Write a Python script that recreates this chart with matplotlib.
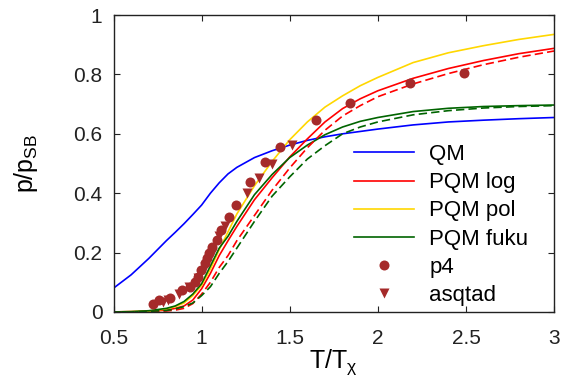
import matplotlib
matplotlib.use("Agg")
import matplotlib.pyplot as plt

plt.rcParams["font.family"] = ["Liberation Sans", "DejaVu Sans"]
plt.rcParams["mathtext.fontset"] = "custom"
plt.rcParams["mathtext.rm"] = "Liberation Sans"
plt.rcParams["mathtext.it"] = "Liberation Sans:italic"

# Temperature grid (T/T_chi) of the model curves
t_grid = [0.5, 0.6, 0.7, 0.8, 0.85, 0.9, 0.95, 1.0, 1.05, 1.1, 1.15, 1.2, 1.3,
          1.4, 1.5, 1.6, 1.7, 1.8, 1.9, 2.0, 2.2, 2.4, 2.6, 2.8, 3.0]

# Pressure over Stefan-Boltzmann limit
qm = [0.08, 0.125, 0.18, 0.24, 0.268, 0.297, 0.328, 0.36, 0.40, 0.435, 0.465,
      0.487, 0.52, 0.543, 0.562, 0.578, 0.59, 0.60, 0.608, 0.616, 0.63, 0.64,
      0.646, 0.651, 0.655]
pqm_log = [0.0, 0.001, 0.002, 0.006, 0.012, 0.02, 0.04, 0.078, 0.13, 0.19,
           0.24, 0.288, 0.378, 0.452, 0.522, 0.583, 0.64, 0.685, 0.718, 0.745,
           0.787, 0.82, 0.847, 0.87, 0.888]
pqm_log_dash = [0.0, 0.0, 0.001, 0.003, 0.006, 0.012, 0.028, 0.06, 0.10, 0.15,
                0.19, 0.24, 0.325, 0.41, 0.485, 0.553, 0.612, 0.66, 0.695, 0.725,
                0.768, 0.803, 0.833, 0.858, 0.879]
pqm_pol = [0.0, 0.001, 0.003, 0.01, 0.018, 0.03, 0.055, 0.09, 0.145, 0.21,
           0.27, 0.33, 0.425, 0.507, 0.58, 0.64, 0.69, 0.728, 0.762, 0.79,
           0.84, 0.873, 0.897, 0.918, 0.935]
pqm_fuku = [0.0, 0.001, 0.004, 0.012, 0.02, 0.035, 0.06, 0.095, 0.155, 0.215,
            0.255, 0.305, 0.395, 0.463, 0.52, 0.562, 0.597, 0.623, 0.642, 0.655,
            0.675, 0.686, 0.692, 0.695, 0.697]
pqm_fuku_dash = [0.0, 0.0, 0.002, 0.005, 0.01, 0.018, 0.03, 0.055, 0.085, 0.13,
                 0.17, 0.215, 0.305, 0.39, 0.455, 0.515, 0.56, 0.6, 0.623, 0.64,
                 0.664, 0.678, 0.687, 0.692, 0.695]

# Lattice data
p4_t = [0.724, 0.76, 0.818, 0.888, 0.932, 0.96, 0.98, 0.998, 1.017, 1.03,
        1.042, 1.06, 1.087, 1.112, 1.153, 1.196, 1.274, 1.36, 1.445, 1.65,
        1.84, 2.18, 2.49]
p4_p = [0.027, 0.04, 0.046, 0.074, 0.085, 0.10, 0.119, 0.141, 0.164, 0.18,
        0.20, 0.22, 0.242, 0.276, 0.319, 0.36, 0.439, 0.504, 0.555, 0.645,
        0.703, 0.77, 0.806]
asq_t = [0.78, 0.81, 0.87, 0.93, 0.98, 1.02, 1.06, 1.1, 1.13, 1.257, 1.323,
         1.4, 1.515]
asq_p = [0.032, 0.04, 0.06, 0.085, 0.115, 0.15, 0.2, 0.255, 0.29, 0.40, 0.45,
         0.50, 0.562]

fig = plt.figure(figsize=(5.63, 3.87), dpi=100)
ax = fig.add_axes([0.2016, 0.194, 0.7825, 0.767])

lw = 1.2
dash = (0, (5, 2.5))
ax.plot(t_grid, qm, color="#0000ff", lw=lw, label="QM")
ax.plot(t_grid, pqm_log, color="#ff0000", lw=lw, label="PQM log")
ax.plot(t_grid, pqm_pol, color="#ffd700", lw=lw, label="PQM pol")
ax.plot(t_grid, pqm_fuku, color="#006400", lw=lw, label="PQM fuku")
ax.plot(t_grid, pqm_log_dash, color="#ff0000", lw=lw, ls=dash)
ax.plot(t_grid, pqm_fuku_dash, color="#006400", lw=lw, ls=dash)
ax.plot(p4_t, p4_p, "o", color="#a52a2a", ms=7.2, mec="none", label="p4")
ax.plot(asq_t, asq_p, "v", color="#a52a2a", ms=7, mec="none", label="asqtad")

ax.set_xlim(0.5, 3)
ax.set_ylim(0, 1)
ax.set_xticks([0.5, 1, 1.5, 2, 2.5, 3])
ax.set_xticklabels(["0.5", "1", "1.5", "2", "2.5", "3"])
ax.set_yticks([0, 0.2, 0.4, 0.6, 0.8, 1])
ax.set_yticklabels(["0", "0.2", "0.4", "0.6", "0.8", "1"])
ax.tick_params(direction="in", length=4.3, width=0.8, labelsize=15,
               top=True, right=True, pad=8, colors="#222222")
ax.tick_params(axis="x", pad=12)
for s in ax.spines.values():
    s.set_linewidth(1.0)
    s.set_color("#222222")

ax.set_xlabel(r"$\mathregular{T/T_{\chi}}$", fontsize=18, labelpad=0)
ax.set_ylabel(r"$\mathregular{p/p_{SB}}$", fontsize=18, labelpad=24)

ax.legend(loc="upper left", bbox_to_anchor=(0.545, 0.565), frameon=False,
          fontsize=16, handlelength=2.7, handletextpad=0.7, labelspacing=0.32,
          borderpad=0, borderaxespad=0, numpoints=1)

fig.savefig("out.png", dpi=100)
